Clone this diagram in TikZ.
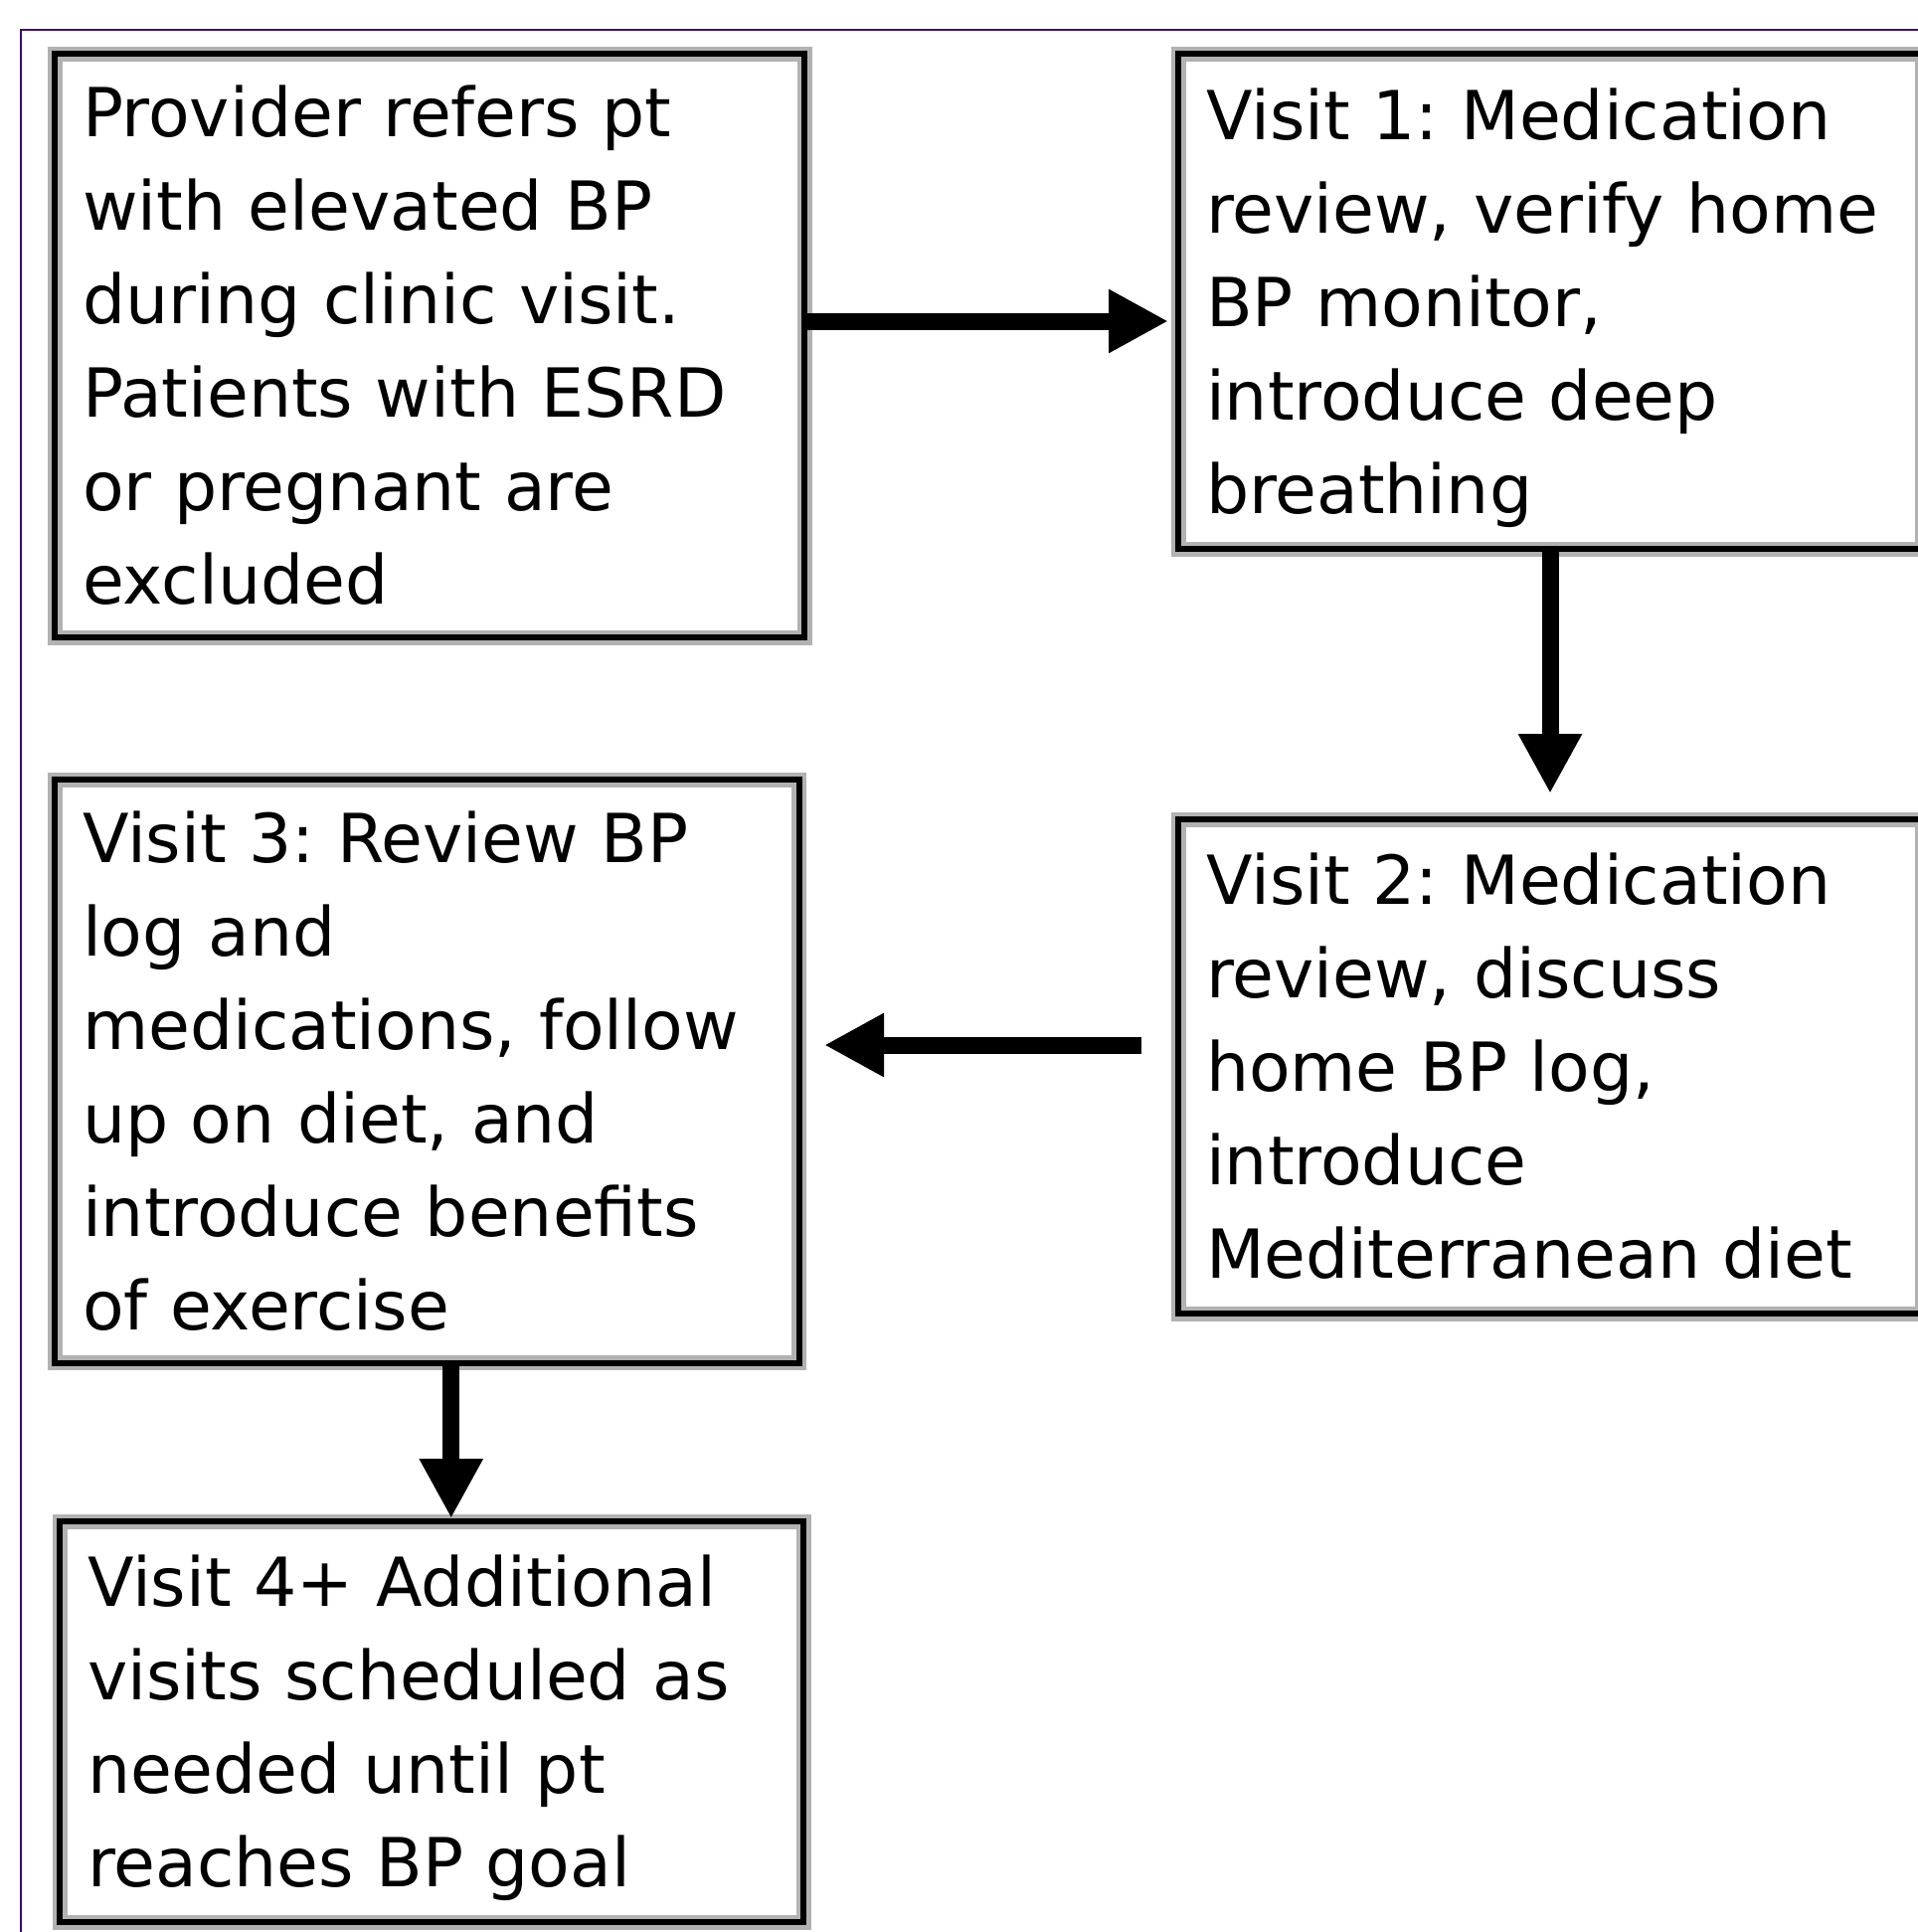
\documentclass[tikz,border=0pt]{standalone}
\usepackage{fontspec}
\setmainfont{DejaVu Sans}
\usetikzlibrary{arrows.meta}
\definecolor{framepurple}{RGB}{58,16,110}
\newcommand{\boxlines}[1]{\rule{0pt}{41.75pt}#1\rule[-16.5pt]{0pt}{16.5pt}}
\frenchspacing

\begin{document}
\begin{tikzpicture}[x=0.5pt,y=-0.5pt,
    stepbox/.style={draw=black, line width=3pt, preaction={draw=gray!60, line width=7.5pt},
        anchor=north west, align=left, inner xsep=14pt, inner ysep=0pt,
        font=\fontsize{34}{47}\selectfont},
    flow/.style={draw=black, line width=8.5pt, -{Triangle[length=30pt,width=30pt]}}]
    \useasboundingbox (0,0) rectangle (1928,1943);
    \fill[white] (0,0) rectangle (1928,1943);
    \draw[framepurple, line width=1pt] (21,30) rectangle (2100,2100);

    % left column
    \node[stepbox, text width=349pt, minimum height=293.5pt] (refer) at (52,51)
        {\boxlines{Provider refers pt\\with elevated BP\\during clinic visit.\\Patients with ESRD\\or pregnant are\\excluded}};
    \node[stepbox, text width=346.25pt, minimum height=292.5pt] (visit3) at (52,781)
        {\boxlines{Visit 3: Review BP\\log and\\medications, follow\\up on diet, and\\introduce benefits\\of exercise}};
    \node[stepbox, text width=346pt, minimum height=201.5pt] (visit4) at (57,1527)
        {\boxlines{Visit 4+ Additional\\visits scheduled as\\needed until pt\\reaches BP goal}};

    % right column
    \node[stepbox, text width=346pt, minimum height=249pt] (visit1) at (1182,51)
        {\boxlines{Visit 1: Medication\\review, verify home\\BP monitor,\\introduce deep\\breathing}};
    \node[stepbox, text width=346pt, minimum height=248.5pt] (visit2) at (1182,821)
        {\boxlines{Visit 2: Medication\\review, discuss\\home BP log,\\introduce\\Mediterranean diet}};

    % arrows
    \draw[flow, shorten >=3.5pt] ([yshift=12.25pt]refer.east) -- ([yshift=12.25pt]refer.east -| visit1.west);
    \draw[flow, shorten >=11.5pt] (visit1.south) -- (visit2.north);
    \draw[flow, shorten <=17pt, shorten >=11.25pt] ([yshift=10.75pt]visit2.west) -- ([yshift=10.75pt]visit2.west -| visit3.east);
    \draw[flow] ([xshift=12.25pt]visit3.south) -- ([xshift=12.25pt]visit3.south |- visit4.north);
\end{tikzpicture}
\end{document}
